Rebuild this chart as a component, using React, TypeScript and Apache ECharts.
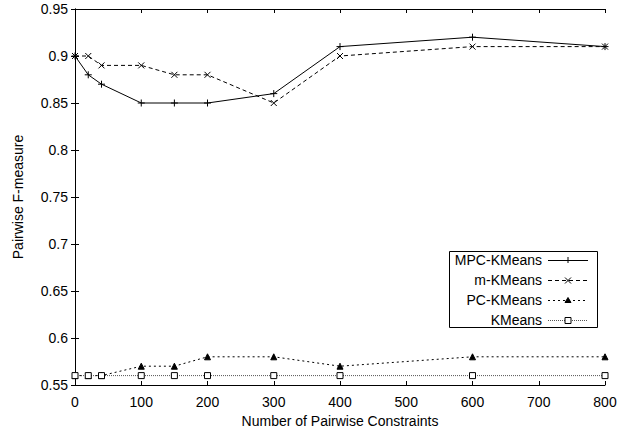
import React, { useEffect, useRef } from "react";
import * as echarts from "echarts";

const constraints = [0, 20, 40, 100, 150, 200, 300, 400, 600, 800];
const mpcKMeans = [0.9, 0.88, 0.87, 0.85, 0.85, 0.85, 0.86, 0.91, 0.92, 0.91];
const mKMeans = [0.9, 0.9, 0.89, 0.89, 0.88, 0.88, 0.85, 0.9, 0.91, 0.91];
const pcKMeans = [0.56, 0.56, 0.56, 0.57, 0.57, 0.58, 0.58, 0.57, 0.58, 0.58];
const kMeans = [0.56, 0.56, 0.56, 0.56, 0.56, 0.56, 0.56, 0.56, 0.56, 0.56];
const seriesNames = ["MPC-KMeans", "m-KMeans", "PC-KMeans", "KMeans"];
const xTitle = "Number of Pairwise Constraints";
const yTitle = "Pairwise F-measure";

const FONT = "'Liberation Sans', Arial, Helvetica, sans-serif";
const FS = 14;
const PLUS = "path://M0,5L10,5M5,0L5,10";
const CROSS = "path://M0,0L10,10M0,10L10,0";

function pairs(vals: number[]) {
  return constraints.map((c, i) => [c, vals[i]]);
}

export default function App() {
  const ref = useRef<HTMLDivElement>(null);
  useEffect(() => {
    if (!ref.current) return;
    const chart = echarts.init(ref.current, undefined, { renderer: "svg" });
    const axisCommon = {
      axisLine: { show: true, lineStyle: { color: "#000", width: 1 } },
      axisTick: { show: true, inside: true, length: 4, lineStyle: { color: "#000" } },
      splitLine: { show: false },
    };
    const lx = 542; // legend text right edge
    const l0 = 548;
    const l1 = 588;
    const lm = 568;
    const rows = [260, 280, 300, 320];
    const legendGraphics: any[] = [
      {
        type: "rect",
        shape: { x: 449.5, y: 251.5, width: 148, height: 76 },
        style: { fill: "#fff", stroke: "#000", lineWidth: 1 },
        z: 100,
      },
    ];
    const dashes: any[] = [null, [4, 3], [2, 3], [1, 1]];
    const strokes = ["#000", "#000", "#000", "#555"];
    seriesNames.forEach((name, i) => {
      const y = rows[i];
      legendGraphics.push({
        type: "text",
        x: lx,
        y,
        style: {
          text: name,
          fill: "#000",
          font: `${FS}px ${FONT}`,
          textAlign: "right",
          textVerticalAlign: "middle",
        },
        z: 101,
      });
      legendGraphics.push({
        type: "line",
        shape: { x1: l0, y1: y + 0.5, x2: l1, y2: y + 0.5 },
        style: { stroke: strokes[i], lineWidth: 1, lineDash: dashes[i] || undefined },
        z: 101,
      });
    });
    legendGraphics.push(
      { type: "line", shape: { x1: lm - 3, y1: rows[0] + 0.5, x2: lm + 3, y2: rows[0] + 0.5 }, style: { stroke: "#000", lineWidth: 1 }, z: 102 },
      { type: "line", shape: { x1: lm, y1: rows[0] - 3, x2: lm, y2: rows[0] + 3 }, style: { stroke: "#000", lineWidth: 1 }, z: 102 },
      { type: "line", shape: { x1: lm - 3, y1: rows[1] - 2.5, x2: lm + 3, y2: rows[1] + 3.5 }, style: { stroke: "#000", lineWidth: 1 }, z: 102 },
      { type: "line", shape: { x1: lm - 3, y1: rows[1] + 3.5, x2: lm + 3, y2: rows[1] - 2.5 }, style: { stroke: "#000", lineWidth: 1 }, z: 102 },
      { type: "polygon", shape: { points: [[lm, rows[2] - 2.5], [lm + 3, rows[2] + 2.5], [lm - 3, rows[2] + 2.5]] }, style: { fill: "#000", stroke: "#000", lineWidth: 1 }, z: 102 },
      { type: "rect", shape: { x: lm - 3, y: rows[3] - 2.5, width: 6, height: 6 }, style: { fill: "#fff", stroke: "#000", lineWidth: 1 }, z: 102 }
    );

    const lineSeries = (name: string, vals: number[], symbol: string, size: number, dash: any, color: string, fill: string) => ({
      type: "line",
      name,
      data: pairs(vals),
      symbol,
      symbolSize: size,
      showAllSymbol: true,
      lineStyle: { color, width: 1, type: dash || "solid" },
      itemStyle: { color: fill, borderColor: "#000", borderWidth: 1 },
      xAxisIndex: 0,
      yAxisIndex: 0,
      z: 5,
    });

    chart.setOption({
      animation: false,
      backgroundColor: "#fff",
      textStyle: { fontFamily: FONT },
      grid: { left: 75, right: 20, top: 9, bottom: 49, containLabel: false },
      xAxis: [
        {
          type: "value",
          min: 0,
          max: 800,
          interval: 100,
          position: "bottom",
          name: xTitle,
          nameLocation: "middle",
          nameGap: 29,
          nameTextStyle: { fontSize: FS, color: "#000", fontFamily: FONT },
          axisLabel: { fontSize: FS, color: "#000", margin: 10, fontFamily: FONT },
          ...axisCommon,
        },
        {
          type: "value",
          min: 0,
          max: 800,
          interval: 100,
          position: "top",
          axisLabel: { show: false },
          ...axisCommon,
        },
      ],
      yAxis: [
        {
          type: "value",
          min: 0.55,
          max: 0.95,
          interval: 0.05,
          position: "left",
          name: yTitle,
          nameLocation: "middle",
          nameGap: 50,
          nameTextStyle: { fontSize: FS, color: "#000", fontFamily: FONT },
          axisLabel: {
            fontSize: FS,
            color: "#000",
            margin: 7,
            fontFamily: FONT,
            formatter: (v: number) => String(parseFloat(v.toFixed(2))),
          },
          ...axisCommon,
        },
        {
          type: "value",
          min: 0.55,
          max: 0.95,
          interval: 0.05,
          position: "right",
          axisLabel: { show: false },
          ...axisCommon,
        },
      ],
      series: [
        lineSeries(seriesNames[0], mpcKMeans, PLUS, 7, null, "#000", "#000"),
        lineSeries(seriesNames[1], mKMeans, CROSS, 6, [4, 3], "#000", "#000"),
        lineSeries(seriesNames[2], pcKMeans, "triangle", 6, [2, 3], "#000", "#000"),
        lineSeries(seriesNames[3], kMeans, "rect", 6, [1, 1], "#555", "#fff"),
      ],
      graphic: legendGraphics,
    });
    return () => chart.dispose();
  }, []);
  return <div ref={ref} style={{ position: "fixed", left: 0, top: 0, width: 625, height: 434 }} />;
}
